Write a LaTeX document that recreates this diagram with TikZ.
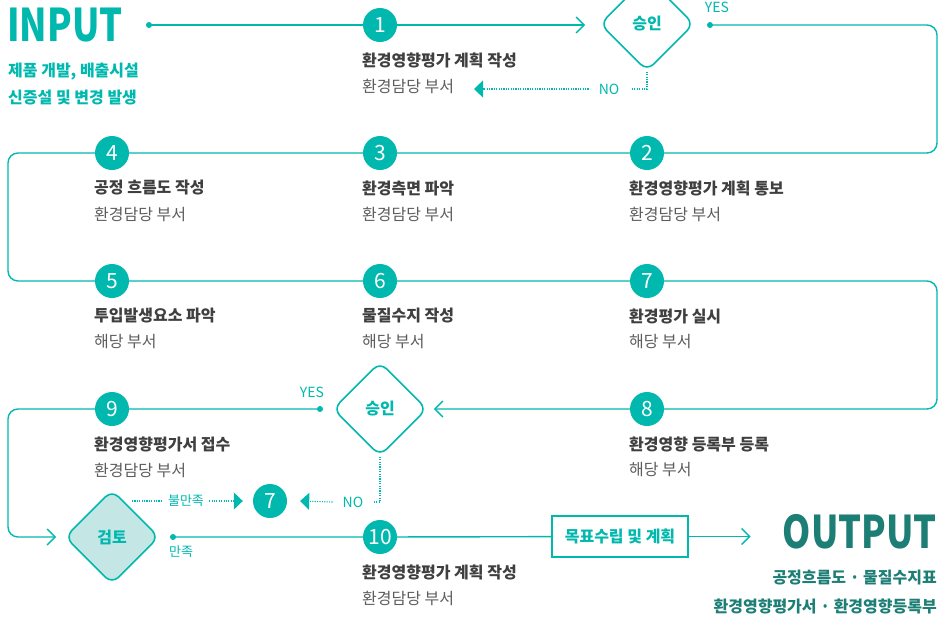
\documentclass[tikz,border=0pt]{standalone}
\usepackage{fontspec}
\setmainfont{Noto Sans CJK KR}
\usetikzlibrary{arrows.meta,shapes.geometric,backgrounds}
\definecolor{teal1}{HTML}{00B8AE}
\definecolor{tealdark}{HTML}{1D7E75}
\definecolor{tealfill}{HTML}{C4E7E5}
\definecolor{txtdark}{HTML}{3F3F3F}
\definecolor{txtgray}{HTML}{5C5C5C}
\begin{document}
\begin{tikzpicture}[x=1pt,y=-1pt,
  num/.style={circle, fill=teal1, text=white, minimum size=34pt, inner sep=0pt, font=\fontsize{21}{21}\selectfont},
  ttl/.style={anchor=west, inner sep=0pt, text=txtdark, font=\fontsize{16}{16}\selectfont\bfseries},
  sub/.style={anchor=west, inner sep=0pt, text=txtgray, font=\fontsize{16}{16}\selectfont},
  dec/.style={diamond, aspect=1, draw=teal1, line width=1.6pt, minimum width=94pt, minimum height=94pt, inner sep=0pt, rounded corners=9pt, fill=white, text=teal1, font=\fontsize{16}{16}\selectfont\bfseries},
  dotn/.style={circle, fill=teal1, inner sep=0pt, minimum size=6pt},
  lbl/.style={inner sep=0pt, text=teal1, font=\fontsize{14}{14}\selectfont},
  slbl/.style={inner sep=0pt, text=teal1, font=\fontsize{13}{13}\selectfont},
  flow/.style={draw=teal1, line width=1.4pt},
  dflow/.style={draw=teal1, line width=1.1pt, dash pattern=on 1.1pt off 1.3pt},
  openarr/.style={-{Straight Barb[length=8pt,width=16pt,line width=1.4pt]}},
  triarr/.style={-{Triangle[length=9pt,width=17pt]}},
  insub/.style={anchor=west, inner sep=0pt, text=teal1, font=\fontsize{16}{16}\selectfont\bfseries},
  outsub/.style={anchor=east, inner sep=0pt, text=tealdark, font=\fontsize{16}{16}\selectfont\bfseries}
]
\useasboundingbox (0,0) rectangle (942,616);

% INPUT
\node[anchor=west, inner sep=0pt, text=teal1, font=\fontsize{45}{45}\selectfont\bfseries] (input) at (7,25) {\scalebox{0.8}[1]{INPUT}};
\node[insub] (is1) at (8,72) {제품 개발, 배출시설};
\node[insub] (is2) at (8,98) {신증설 및 변경 발생};

% OUTPUT
\node[anchor=east, inner sep=0pt, text=tealdark, font=\fontsize{45}{45}\selectfont\bfseries] (output) at (937,532) {\scalebox{0.8}[1]{OUTPUT}};
\node[outsub] (os1) at (937,578) {공정흐름도 · 물질수지표};
\node[outsub] (os2) at (937,606) {환경영향평가서 · 환경영향등록부};

% nodes
\node[dotn] (indot) at (149,25) {};
\node[num] (c1) at (380,25) {1};
\node[dec] (d1) at (647,24) {승인};
\node[dotn] (y1dot) at (710,25) {};
\node[lbl] (yes1) at (717,7) {YES};
\node[lbl] (no1) at (609,89) {NO};

\node[num] (c2) at (647,153) {2};
\node[num] (c3) at (380,153) {3};
\node[num] (c4) at (112,153) {4};
\node[num] (c5) at (112,281) {5};
\node[num] (c6) at (380,281) {6};
\node[num] (c7) at (647,281) {7};
\node[num] (c8) at (647,409) {8};
\node[dec] (d2) at (380,409) {승인};
\node[num] (c9) at (112,409) {9};
\node[dotn] (y2dot) at (320,409) {};
\node[lbl] (yes2) at (312,392) {YES};

\node[dec, fill=tealfill] (d3) at (112,537) {검토};
\node[num] (c7b) at (270,501) {7};
\node[lbl] (no2) at (353,502) {NO};
\node[slbl] (unsat) at (186,501) {불만족};
\node[dotn] (satdot) at (173,537) {};
\node[slbl] (sat) at (181,552) {만족};
\node[num] (c10) at (380,537) {10};
\node[draw=teal1, line width=1.4pt, fill=white, minimum width=136pt, minimum height=41pt, inner sep=0pt, text=teal1, font=\fontsize{16}{16}\selectfont\bfseries] (goal) at (620,536.5) {목표수립 및 계획};

% texts
\node[ttl] (t1) at (362,60) {환경영향평가 계획 작성};
\node[sub] (s1) at (362,86) {환경담당 부서};
\node[ttl] (t2) at (629,188) {환경영향평가 계획 통보};
\node[sub] (s2) at (629,214) {환경담당 부서};
\node[ttl] (t3) at (362,188) {환경측면 파악};
\node[sub] (s3) at (362,214) {환경담당 부서};
\node[ttl] (t4) at (94,188) {공정 흐름도 작성};
\node[sub] (s4) at (94,214) {환경담당 부서};
\node[ttl] (t5) at (94,316) {투입발생요소 파악};
\node[sub] (s5) at (94,342) {해당 부서};
\node[ttl] (t6) at (362,316) {물질수지 작성};
\node[sub] (s6) at (362,342) {해당 부서};
\node[ttl] (t7) at (629,316) {환경평가 실시};
\node[sub] (s7) at (629,342) {해당 부서};
\node[ttl] (t8) at (629,444) {환경영향 등록부 등록};
\node[sub] (s8) at (629,470) {해당 부서};
\node[ttl] (t9) at (94,444) {환경영향평가서 접수};
\node[sub] (s9) at (94,470) {환경담당 부서};
\node[ttl] (t10) at (362,572) {환경영향평가 계획 작성};
\node[sub] (s10) at (362,598) {환경담당 부서};

\coordinate (xR) at (937,0);
\coordinate (xL) at (8,0);

\begin{scope}[on background layer]
  % row 1
  \draw[flow] (indot.center) -- (c1);
  \draw[flow, openarr, shorten >=14pt] (c1) -- (d1.west |- c1);
  % main loop
  \draw[flow, rounded corners=10pt, openarr]
    (y1dot.center) -- (xR |- y1dot) -- (xR |- c2) -- (xL |- c4) -- (xL |- c5)
    -- (xR |- c7) -- (xR |- c8) -- ([xshift=6pt]d2.east);
  % row 4 yes loop
  \draw[flow, rounded corners=10pt, openarr]
    (y2dot.center) -- (xL |- c9) -- (xL |- d3) -- ([xshift=-8pt]d3.west);
  % satisfied
  \draw[flow] (satdot.center) -- (c10) -- (goal);
  \draw[flow, openarr] (goal.east) -- ++(62,0) coordinate (outarr);
  % NO 1
  \draw[dflow] (d1.south) -- (d1.south |- no1) -- ([xshift=-8pt]d1.south |- no1) coordinate (n1a) -- ([xshift=12pt]no1.east);
  \draw[dflow, triarr] ([xshift=-10pt]no1.west) -- (474,89) coordinate (n1tip);
  % NO 2
  \draw[dflow] (d2.south) -- (d2.south |- no2) -- ([xshift=9pt]no2.east);
  \draw[dflow, triarr] ([xshift=-10pt]no2.west) -- ([xshift=13pt]c7b.east);
  % unsatisfied
  \draw[dflow] (132,501) -- ([xshift=-5pt]unsat.west);
  \draw[dflow, triarr] ([xshift=5pt]unsat.east) -- ([xshift=-10pt]c7b.west);
\end{scope}
\end{tikzpicture}
\end{document}
